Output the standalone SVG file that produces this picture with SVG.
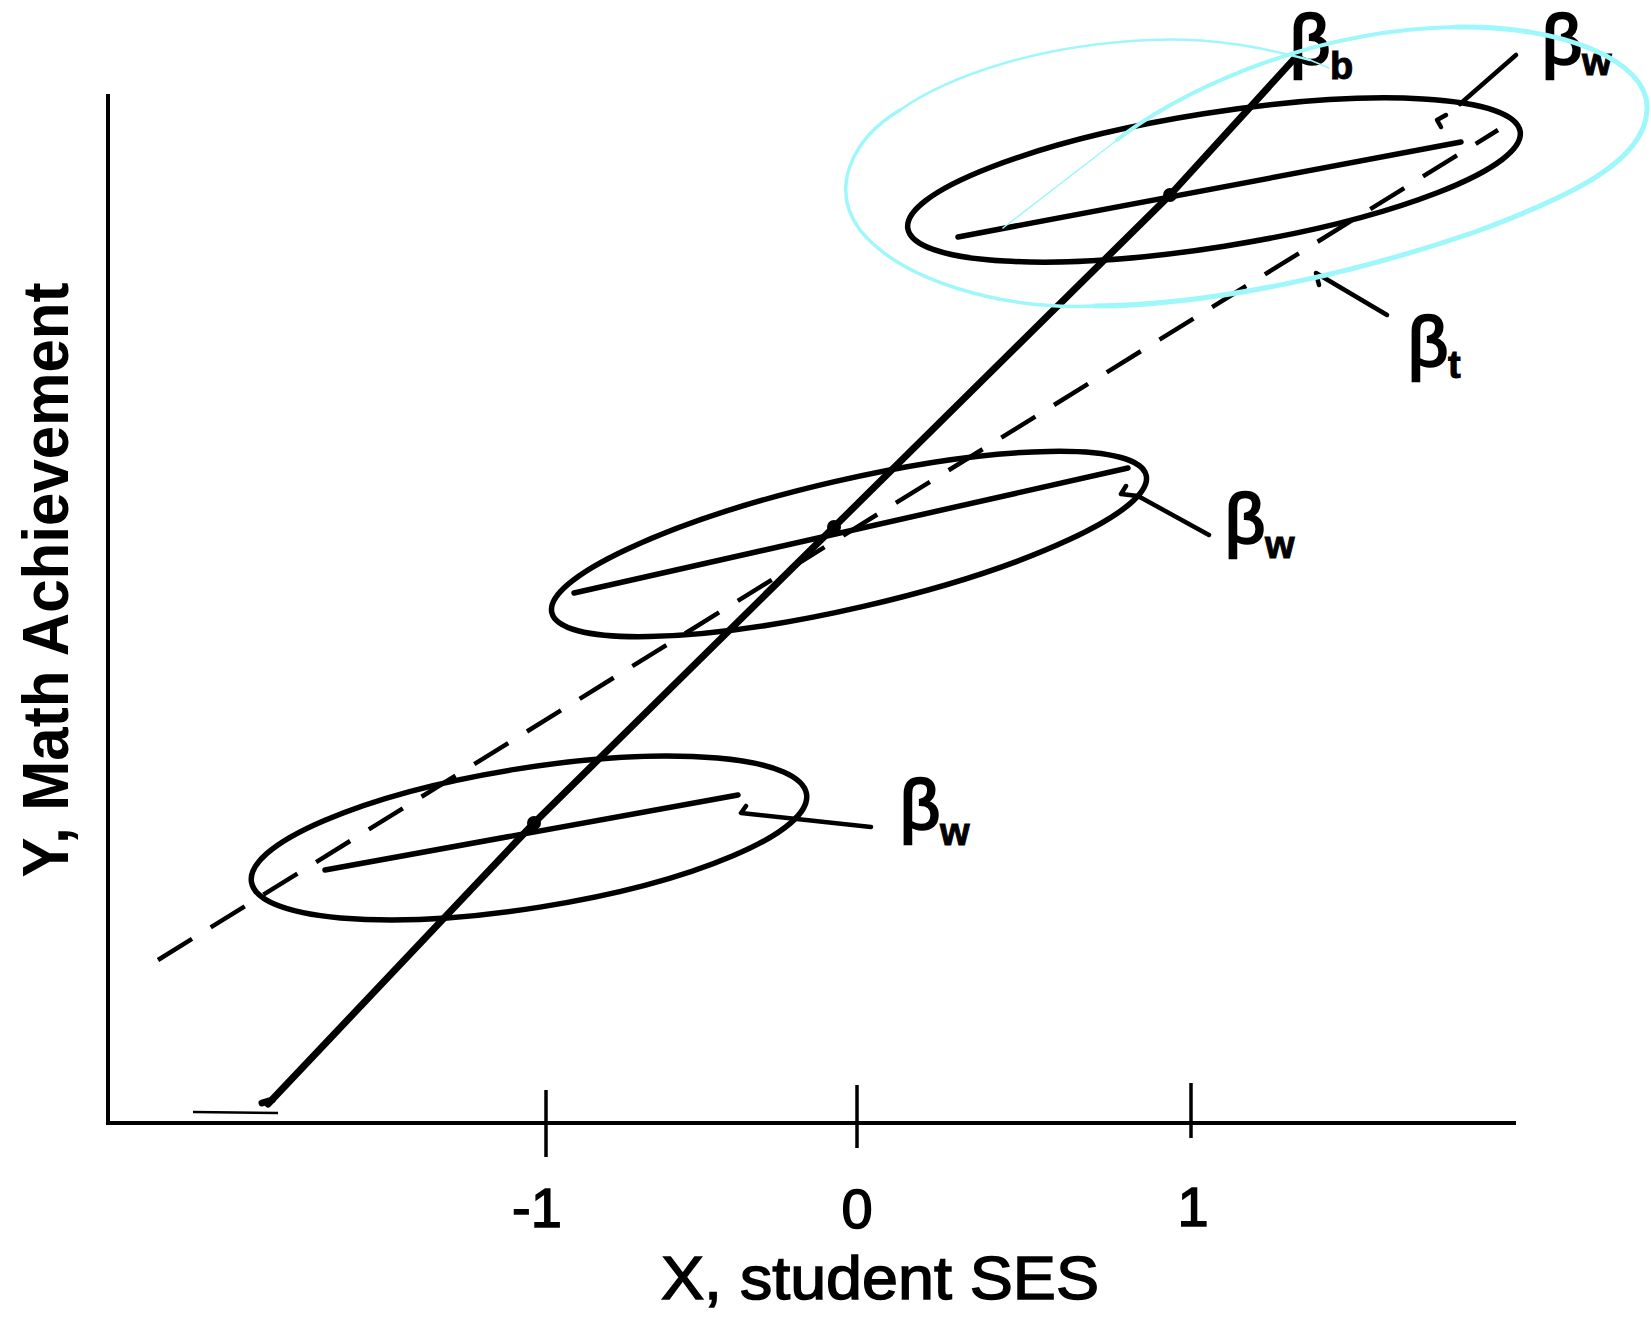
<svg xmlns="http://www.w3.org/2000/svg" width="1651" height="1318" viewBox="0 0 1651 1318">
<style>
.ax{stroke:#000;stroke-width:4;fill:none;stroke-linecap:butt}
.tk{stroke:#000;stroke-width:3.5;fill:none}
.el{stroke:#000;stroke-width:5.5;fill:none}
.ln{stroke:#000;stroke-width:5.5;fill:none;stroke-linecap:round}
.sl{stroke:#000;stroke-width:7;fill:none;stroke-linecap:round;stroke-linejoin:round}
.ds{stroke:#000;stroke-width:4.5;fill:none;stroke-dasharray:40 22}
.pt{stroke:#000;stroke-width:4.5;fill:none;stroke-linecap:round;stroke-linejoin:round}
.cy{stroke:#9ef7fa;fill:none;stroke-linecap:round;stroke-linejoin:round}
.lab{font-family:"Liberation Sans",Arial,sans-serif;fill:#000}
.beta{font-family:"Liberation Sans",Arial,sans-serif;font-size:70px;fill:#000;stroke:#000;stroke-width:2.5}
.sub{font-size:38px;font-weight:bold;stroke-width:1}
</style>
<g id="axes">
<line class="ax" x1="108" y1="94" x2="108" y2="1125"/>
<line class="ax" x1="106" y1="1123" x2="1516" y2="1123"/>
<line class="tk" x1="546" y1="1090" x2="546" y2="1157"/>
<line class="tk" x1="857" y1="1085" x2="857" y2="1148"/>
<line class="tk" x1="1191" y1="1083" x2="1191" y2="1138"/>
<line x1="193" y1="1112" x2="278" y2="1113" stroke="#000" stroke-width="2.5"/>
<text class="lab" x="537" y="1227" font-size="56" text-anchor="middle" stroke="#000" stroke-width="1.5">-1</text>
<text class="lab" x="857" y="1228" font-size="56" text-anchor="middle" stroke="#000" stroke-width="1.5">0</text>
<text class="lab" x="1193" y="1226" font-size="56" text-anchor="middle" stroke="#000" stroke-width="1.5">1</text>
<text class="lab" x="880" y="1299" font-size="62" text-anchor="middle" textLength="438" lengthAdjust="spacingAndGlyphs" stroke="#000" stroke-width="1.5">X, student SES</text>
<text class="lab" transform="translate(68,580) rotate(-90)" x="0" y="0" font-size="64" font-weight="bold" text-anchor="middle" textLength="595" lengthAdjust="spacingAndGlyphs">Y, Math Achievement</text>
</g>
<g id="connectors">
<line class="ds" x1="158" y1="960" x2="1498" y2="130"/>
<polyline class="sl" points="268,1104 534,823 834,527 1170,195 1295,58"/>
<path class="sl" d="M262,1103 L272,1100"/>
</g>
<g id="group-low">
<ellipse class="el" cx="529" cy="838" rx="281" ry="70" transform="rotate(-9 529 838)"/>
<line class="ln" x1="325" y1="870" x2="738" y2="795"/>
<circle cx="534" cy="823" r="7"/>
<path class="pt" d="M746,806 L741,813 L871,827"/>
<text class="beta" x="900" y="829">β<tspan class="sub" x="940" y="845">w</tspan></text>
</g>
<g id="group-mid">
<ellipse class="el" cx="849" cy="544" rx="305" ry="64" transform="rotate(-13 849 544)"/>
<line class="ln" x1="574" y1="593" x2="1128" y2="468"/>
<circle cx="834" cy="527" r="7"/>
<path class="pt" d="M1126,486 L1121,494 L1138,496 L1209,535"/>
<text class="beta" x="1225" y="543">β<tspan class="sub" x="1265" y="558">w</tspan></text>
</g>
<g id="group-high">
<ellipse class="el" cx="1214" cy="180" rx="310" ry="67" transform="rotate(-9 1214 180)"/>
<line class="ln" x1="958" y1="237" x2="1461" y2="142"/>
<circle cx="1170" cy="195" r="7"/>
<path class="pt" d="M1516,55 L1460,104"/>
<path class="pt" d="M1446,115 L1437,120 L1441,127"/>
<text class="beta" x="1542" y="64">β<tspan class="sub" x="1582" y="75">w</tspan></text>
</g>
<g id="label-total">
<path class="pt" d="M1387,315 L1316,273 L1319,285"/>
<text class="beta" x="1408" y="366">β<tspan class="sub" x="1448" y="378">t</tspan></text>
</g>
<g id="label-between">
<text class="beta" x="1290" y="64">β<tspan class="sub" x="1330" y="79" font-size="48">b</tspan></text>
</g>
<g id="highlight">
<path class="cy" stroke-width="1.5" d="M1003,228 L1117,140"/>
<path class="cy" stroke-width="4" d="M1117,140 C1170,98 1300,30 1456,27"/>
<path class="cy" stroke-width="5" d="M1456,27 C1560,25 1650,60 1647,110 C1645,160 1575,195 1475,232 C1365,270 1220,305 1095,306"/>
<path class="cy" stroke-width="3.5" d="M1095,306 C1000,310 900,280 860,230 C830,190 850,140 900,110"/>
<path class="cy" stroke-width="2.5" d="M900,110 C950,75 1040,45 1149,40 C1220,37 1270,50 1310,60"/>
<path class="cy" stroke-width="1.5" d="M1310,60 L1329,68"/>
</g>
</svg>
